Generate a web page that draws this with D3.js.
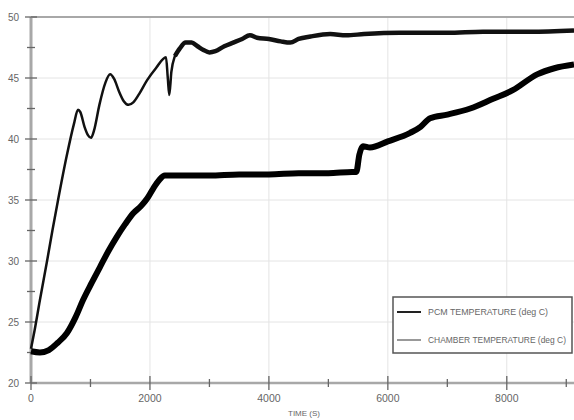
<html>
<head>
  <script src="https://d3js.org/d3.v7.min.js"></script>
</head>
<style>
  body { margin: 0; background: #fff; }
  .grid line { stroke: #e4e4e4; stroke-width: 1px; }
  .tick-label { font-family: "Liberation Sans Narrow", "Liberation Sans", sans-serif; fill: #666; }
</style>
<body>
  <svg id="chart" width="574" height="420"></svg>
  <script>
    // chamber temperature readings (time s, deg C)
    const chamberTime = [0, 60, 150, 270, 360, 455, 600, 720, 790, 830, 900, 960, 1010, 1060, 1150, 1250, 1330, 1400, 1480, 1560, 1640, 1720, 1820, 1950, 2100, 2270, 2300, 2325, 2360, 2420, 2500, 2600, 2700, 2800, 2900, 3000, 3100, 3250, 3400, 3550, 3680, 3800, 4000, 4200, 4360, 4500, 4700, 5030, 5300, 5600, 6200, 7000, 7600, 8400, 9130];
    const chamberTemp = [22.8, 24.3, 26.8, 30, 32.5, 35, 38.6, 41.2, 42.4, 42.2, 41.0, 40.3, 40.1, 40.7, 42.8, 44.6, 45.3, 44.9, 43.9, 43.1, 42.8, 43.0, 43.7, 44.8, 45.8, 46.7, 45.0, 43.6, 45.5, 46.8, 47.4, 47.9, 47.9, 47.6, 47.3, 47.1, 47.2, 47.6, 47.9, 48.2, 48.5, 48.3, 48.2, 48.0, 47.9, 48.2, 48.4, 48.6, 48.5, 48.6, 48.7, 48.7, 48.8, 48.8, 48.9];

    // PCM temperature readings
    const pcmTime = [0, 150, 300, 450, 605, 750, 875, 1020, 1160, 1300, 1445, 1580, 1715, 1850, 1950, 2050, 2150, 2250, 2350, 2600, 3000, 3500, 4000, 4500, 5000, 5400, 5470, 5520, 5580, 5700, 6000, 6375, 6550, 6710, 7000, 7385, 7770, 8100, 8510, 8800, 9130];
    const pcmTemp = [22.6, 22.5, 22.7, 23.3, 24.1, 25.4, 26.8, 28.2, 29.5, 30.8, 32.0, 33.0, 33.9, 34.5, 35.1, 35.9, 36.6, 37.0, 37.0, 37.0, 37.0, 37.1, 37.1, 37.2, 37.2, 37.3, 37.3, 38.7, 39.4, 39.3, 39.8, 40.5, 41.0, 41.7, 42.0, 42.5, 43.3, 44.0, 45.3, 45.8, 46.1];

    const xMajor = [0, 2000, 4000, 6000, 8000];
    const xMinor = [1000, 3000, 5000, 7000, 9000];
    const yMajor = [20, 25, 30, 35, 40, 45, 50];
    const yMinor = [22.5, 27.5, 32.5, 37.5, 42.5, 47.5];
    const legendLabels = ["PCM TEMPERATURE (deg C)", "CHAMBER TEMPERATURE (deg C)"];

    const svg = d3.select("svg#chart");
    const xScale = d3.scaleLinear().domain([0, 9130]).range([31, 574]);
    const yScale = d3.scaleLinear().domain([20, 50]).range([383, 17]);

    // grid
    const grid = svg.append("g").attr("class", "grid");
    grid.selectAll("line.gx").data(xMajor.slice(1)).join("line")
      .attr("x1", d => xScale(d)).attr("x2", d => xScale(d))
      .attr("y1", yScale(50)).attr("y2", yScale(20));
    grid.selectAll("line.gy").data(yMajor.slice(1, -1)).join("line")
      .attr("class", "gy")
      .attr("x1", xScale(0)).attr("x2", 574)
      .attr("y1", d => yScale(d)).attr("y2", d => yScale(d));

    // top border
    svg.append("line")
      .attr("x1", xScale(0)).attr("x2", 574)
      .attr("y1", yScale(50)).attr("y2", yScale(50))
      .attr("stroke", "#a8a8a8").attr("stroke-width", 2);

    // axis lines
    svg.append("line")
      .attr("x1", xScale(0)).attr("x2", 574)
      .attr("y1", yScale(20)).attr("y2", yScale(20))
      .attr("stroke", "#a8a8a8").attr("stroke-width", 2.5);
    svg.append("line")
      .attr("x1", xScale(0)).attr("x2", xScale(0))
      .attr("y1", yScale(50)).attr("y2", yScale(20))
      .attr("stroke", "#a8a8a8").attr("stroke-width", 3);

    // ticks
    const ticks = svg.append("g").attr("stroke", "#666").attr("stroke-width", 1.3);
    ticks.selectAll("line.xm").data(xMajor).join("line").attr("class", "xm")
      .attr("x1", d => xScale(d)).attr("x2", d => xScale(d))
      .attr("y1", yScale(20) - 7).attr("y2", yScale(20) + 7);
    ticks.selectAll("line.xn").data(xMinor).join("line").attr("class", "xn")
      .attr("x1", d => xScale(d)).attr("x2", d => xScale(d))
      .attr("y1", yScale(20) - 4).attr("y2", yScale(20) + 4);
    ticks.selectAll("line.ym").data(yMajor).join("line").attr("class", "ym")
      .attr("x1", xScale(0) - 6).attr("x2", xScale(0) + 6)
      .attr("y1", d => yScale(d)).attr("y2", d => yScale(d));
    ticks.selectAll("line.yn").data(yMinor).join("line").attr("class", "yn")
      .attr("x1", xScale(0) - 4).attr("x2", xScale(0) + 4)
      .attr("y1", d => yScale(d)).attr("y2", d => yScale(d));

    // tick labels
    svg.selectAll("text.yl").data(yMajor).join("text")
      .attr("class", "tick-label yl")
      .attr("x", 19).attr("y", d => yScale(d) + 3.5)
      .attr("text-anchor", "end").attr("font-size", 10)
      .text(d => d);
    svg.selectAll("text.xl").data(xMajor).join("text")
      .attr("class", "tick-label xl")
      .attr("x", d => xScale(d)).attr("y", 402)
      .attr("text-anchor", "middle").attr("font-size", 10.5)
      .text(d => d);
    svg.append("text")
      .attr("class", "tick-label")
      .attr("x", 304).attr("y", 416)
      .attr("text-anchor", "middle").attr("font-size", 8)
      .text("TIME (S)");

    // lines
    const lineGen = d3.line()
      .x(d => xScale(d[0]))
      .y(d => yScale(d[1]))
      .curve(d3.curveMonotoneX);

    const chamber = d3.zip(chamberTime, chamberTemp);
    const pcm = d3.zip(pcmTime, pcmTemp);

    svg.append("path").datum(chamber)
      .attr("d", lineGen)
      .attr("fill", "none").attr("stroke", "#111")
      .attr("stroke-width", 2.5).attr("stroke-linejoin", "round");
    // later part of the chamber record is noisier -> wider band
    svg.append("path").datum(chamber.filter(d => d[0] >= 2420))
      .attr("d", lineGen)
      .attr("fill", "none").attr("stroke", "#111")
      .attr("stroke-width", 4.5).attr("stroke-linejoin", "round");
    svg.append("path").datum(pcm)
      .attr("d", lineGen)
      .attr("fill", "none").attr("stroke", "#000")
      .attr("stroke-width", 6).attr("stroke-linejoin", "round");

    // legend
    const legend = svg.append("g");
    legend.append("rect")
      .attr("x", 393).attr("y", 297).attr("width", 179).attr("height", 56)
      .attr("fill", "#fff").attr("stroke", "#555").attr("stroke-width", 1.5);
    legendLabels.forEach((lab, i) => {
      const y = 312 + i * 28;
      legend.append("line")
        .attr("x1", 397).attr("x2", 421).attr("y1", y).attr("y2", y)
        .attr("stroke", i === 0 ? "#222" : "#555").attr("stroke-width", i === 0 ? 2 : 1.2);
      legend.append("text")
        .attr("class", "tick-label")
        .attr("x", 428).attr("y", y + 3)
        .attr("font-size", 8.5)
        .attr("textLength", i === 0 ? 120 : 138)
        .attr("lengthAdjust", "spacingAndGlyphs")
        .text(lab);
    });
  </script>
</body>
</html>
